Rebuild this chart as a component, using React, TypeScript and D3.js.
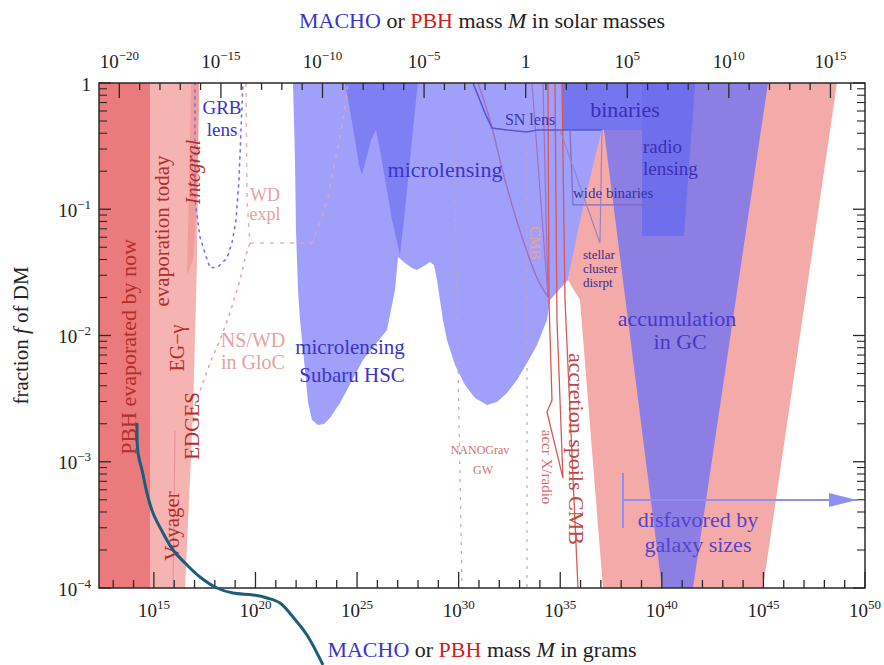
import React from 'react';
import * as d3 from 'd3';

// ---------- data (log10 mass in grams, log10 fraction f) ----------
const MSUN = 1.989e33;
const massDomainGrams = [1e-21 * MSUN, 1e50];
const fDomain = [1e-4, 1];

const bottomTickExps = d3.range(13, 51);
const bottomLabelExps = [15, 20, 25, 30, 35, 40, 45, 50];
const topTickExps = d3.range(-20, 17);
const topLabelExps = [-20, -15, -10, -5, 0, 5, 10, 15];
const yDecadeExps = [-4, -3, -2, -1, 0];

const evaporatedByNow = [[12.2986, 0], [14.809, 0], [14.809, -4], [12.2986, -4]];
const evaporationToday = [[12.2986, 0], [17.22, 0], [17.122, -1.402], [16.925, -2.614], [16.531, -4], [12.2986, -4]];
const integralSliver = [[16.83, 0], [17.22, 0], [17.122, -0.927], [16.925, -1.402], [16.63, -1.521], [16.72, -0.9]];
const voyagerEdge = [[15.941, -4], [16.039, -2.749]];

const microlensing = [
  [21.847, 0], [37.055, 0], [37.055, -0.372], [35.381, -1.56], [34.495, -1.719], [34.348, -1.877],
  [33.856, -2.075], [33.363, -2.218], [32.871, -2.352], [32.379, -2.455], [31.887, -2.527], [31.395, -2.55],
  [30.804, -2.495], [30.312, -2.392], [29.82, -2.234], [29.426, -2.036], [29.229, -1.877], [29.081, -1.719],
  [28.934, -1.56], [28.786, -1.442], [28.589, -1.418], [28.294, -1.45], [27.95, -1.481], [27.703, -1.465],
  [27.359, -1.426], [27.015, -1.378], [26.867, -1.64], [26.473, -1.956], [25.292, -2.194], [24.16, -2.535],
  [23.668, -2.653], [23.372, -2.701], [23.077, -2.709], [22.782, -2.669], [22.585, -2.527], [22.437, -2.273],
  [22.191, -1.877], [22.093, -1.64], [21.994, -1.164], [21.945, -0.61],
];
const microlensingOverlap = [
  [24.406, 0], [27.999, 0], [27.9, -0.135], [27.703, -0.451], [27.507, -0.768], [27.31, -1.085], [27.113, -1.362],
  [26.719, -1.085], [26.424, -0.808], [26.129, -0.531], [25.932, -0.372], [25.686, -0.451], [25.439, -0.61],
  [25.243, -0.729], [25.095, -0.65], [24.898, -0.451], [24.652, -0.214],
];
const dynamicalPink = [
  [37.055, -0.372], [36.562, -0.689], [35.874, -1.164], [35.381, -1.56], [35.972, -1.719], [37.104, -4],
  [44.978, -4], [48.621, 0], [38.925, 0],
];
const accumulationGC = [[36.858, 0], [45.225, 0], [41.533, -4], [40.008, -4]];
const binaries = [[35.086, 0], [41.632, 0], [41.484, -0.372], [35.086, -0.372]];
const radioLensing = [[39.023, 0], [41.632, 0], [41.09, -1.212], [39.023, -1.212]];

const grbLens = [[17.024, 0], [17.024, -0.927], [17.269, -1.22], [17.516, -1.347], [17.762, -1.465], [18.156, -1.457],
  [18.598, -1.386], [18.845, -1.267], [19.042, -1.085], [19.189, -0.768], [19.287, -0.372], [19.386, 0]];
const wdExpl = [[19.534, 0], [19.583, -0.927], [19.73, -1.267], [22.782, -1.267], [23.274, -1.061], [23.57, -0.903],
  [23.815, -0.689], [24.062, -0.507], [24.308, -0.293], [24.455, -0.135], [24.554, 0]];
const nsWdGloC = [[17.024, -2.55], [17.762, -2.218], [18.254, -2.036], [18.746, -1.822], [19.238, -1.56],
  [19.534, -1.362], [19.73, -1.267]];
const snLens = [[30.706, 0], [31.297, -0.238], [31.641, -0.356], [32.379, -0.372], [33.363, -0.388],
  [33.856, -0.372], [34.988, -0.372], [37.055, -0.372]];
const cmbCurve = [[30.952, 0], [31.542, -0.293], [32.28, -0.768], [33.167, -1.244], [33.905, -1.56], [34.397, -1.695]];
const cmbLineA = [[33.61, 0], [34.397, -1.695]];
const cmbLineB = [[34.151, 0], [34.397, -1.695]];
const accrXRadio = [[34.397, 0], [34.446, -1.719], [34.594, -2.511], [34.348, -2.606], [35.135, -3.129],
  [34.84, -1.877], [34.742, 0]];
const accrCmb = [[35.086, 0], [35.234, -1.719], [35.874, -4]];
const nanoGravA = [[29.721, 0], [30.164, -4]];
const nanoGravB = [[33.363, -0.475], [33.363, -4]];
const wideBinaries = [[35.48, -0.372], [35.627, -0.966], [41.139, -0.966]];
const stellarCluster = [[34.988, -0.372], [36.956, -1.267], [37.055, -0.372]];
const galaxyArrow = [[38.088, -3.303], [49.605, -3.303]];
const galaxyBar = [[38.088, -3.089], [38.088, -3.525]];
const tealCurve = [
  [14.169, -2.693], [14.218, -2.931], [14.415, -3.065], [14.661, -3.248], [14.956, -3.406], [15.448, -3.564],
  [15.941, -3.699], [16.531, -3.802], [17.269, -3.913], [18.106, -4.0], [18.894, -4.04], [19.878, -4.055],
  [20.567, -4.079], [21.207, -4.119], [21.847, -4.23], [22.536, -4.372], [23.323, -4.61],
];

// ---------- styling ----------
const W = 884, H = 665;
const PL = 99, PR = 865, PT = 83, PB = 588;
const FONT = '"Liberation Serif", "Times New Roman", serif';
const BLUE_T = '#3b34c8';
const RED_T = '#b32d2d';
const PINK_T = '#e9a0a0';

type Lab = { t: string; lm: number; lf: number; size: number; color: string; rot?: number; anchor?: string; italic?: boolean };
const labels: Lab[] = [
  { t: 'PBH evaporated by now', lm: 13.726, lf: -2.091, size: 22, color: RED_T, rot: -90 },
  { t: 'evaporation today', lm: 15.399, lf: -1.172, size: 21, color: RED_T, rot: -90 },
  { t: 'Integral', lm: 16.925, lf: -0.705, size: 20, color: RED_T, rot: -90, italic: true },
  { t: 'EG\u2212\u03b3', lm: 16.138, lf: -2.099, size: 20, color: RED_T, rot: -90 },
  { t: 'EDGES', lm: 16.876, lf: -2.717, size: 21, color: RED_T, rot: -90 },
  { t: 'Voyager', lm: 15.891, lf: -3.509, size: 21, color: RED_T, rot: -90 },
  { t: 'GRB', lm: 18.352, lf: -0.198, size: 19, color: BLUE_T },
  { t: 'lens', lm: 18.352, lf: -0.372, size: 19, color: BLUE_T },
  { t: 'WD', lm: 20.469, lf: -0.888, size: 18, color: PINK_T },
  { t: 'expl', lm: 20.469, lf: -1.04, size: 18, color: PINK_T },
  { t: 'NS/WD', lm: 19.878, lf: -2.036, size: 20, color: PINK_T },
  { t: 'in GloC', lm: 19.878, lf: -2.21, size: 20, color: PINK_T },
  { t: 'microlensing', lm: 24.652, lf: -2.091, size: 21, color: BLUE_T },
  { t: 'Subaru HSC', lm: 24.752, lf: -2.313, size: 21, color: BLUE_T },
  { t: 'microlensing', lm: 29.328, lf: -0.689, size: 22, color: BLUE_T },
  { t: 'SN lens', lm: 33.512, lf: -0.293, size: 16, color: '#3b34b8' },
  { t: 'binaries', lm: 38.187, lf: -0.206, size: 22, color: '#3a2fb5' },
  { t: 'radio', lm: 39.073, lf: -0.5, size: 19, color: '#3a2fb5', anchor: 'start' },
  { t: 'lensing', lm: 39.073, lf: -0.68, size: 19, color: '#3a2fb5', anchor: 'start' },
  { t: 'wide binaries', lm: 35.627, lf: -0.871, size: 15, color: '#3a2fa0', anchor: 'start' },
  { t: 'stellar', lm: 36.12, lf: -1.362, size: 13, color: '#3d2a88', anchor: 'start' },
  { t: 'cluster', lm: 36.12, lf: -1.473, size: 13, color: '#3d2a88', anchor: 'start' },
  { t: 'disrpt', lm: 36.12, lf: -1.584, size: 13, color: '#3d2a88', anchor: 'start' },
  { t: 'accumulation', lm: 40.746, lf: -1.869, size: 22, color: '#4a38c8' },
  { t: 'in GC', lm: 40.9, lf: -2.051, size: 22, color: '#4a38c8' },
  { t: 'disfavored by', lm: 41.78, lf: -3.461, size: 22, color: '#5544cc' },
  { t: 'galaxy sizes', lm: 41.78, lf: -3.659, size: 22, color: '#5544cc' },
  { t: 'accretion spoils CMB', lm: 35.825, lf: -2.899, size: 22, color: '#c04848', rot: 90 },
  { t: 'accr X/radio', lm: 34.348, lf: -3.042, size: 15, color: '#d86a6a', rot: 90 },
  { t: 'NANOGrav', lm: 31.05, lf: -2.907, size: 12, color: '#d07070' },
  { t: 'GW', lm: 31.2, lf: -3.065, size: 12, color: '#d07070' },
  { t: 'CMB', lm: 33.757, lf: -1.267, size: 15, color: '#f0a090', rot: 90 },
];

function sup(e: number) {
  return e < 0 ? '\u2212' + Math.abs(e) : String(e);
}

export default function App() {
  const x = d3.scaleLog().domain(massDomainGrams).range([PL, PR]);
  const xTop = d3.scaleLog().domain([massDomainGrams[0] / MSUN, massDomainGrams[1] / MSUN]).range([PL, PR]);
  const y = d3.scaleLog().domain(fDomain).range([PB, PT]);
  const px = (lm: number) => x(Math.pow(10, lm));
  const py = (lf: number) => y(Math.pow(10, lf));
  const mk = (pts: number[][], closed = true, curve: any = d3.curveLinear) =>
    (d3.line<number[]>().x(d => px(d[0])).y(d => py(d[1])).curve(curve)(pts) || '') + (closed ? 'Z' : '');

  const yMinor: number[] = [];
  for (let k = -4; k < 0; k++) for (let m = 2; m <= 9; m++) yMinor.push(m * Math.pow(10, k));

  const ax = px(galaxyArrow[1][0]);
  const ay = py(galaxyArrow[1][1]);

  const axisColor = '#2a2a2a';

  return (
    <svg width={W} height={H} style={{ position: 'absolute', left: 0, top: 0, background: '#fff', fontFamily: FONT }}>
      <defs>
        <clipPath id="plot">
          <rect x={PL} y={PT} width={PR - PL} height={PB - PT} />
        </clipPath>
      </defs>
      <rect x={0} y={0} width={W} height={H} fill="#fff" />
      <g clipPath="url(#plot)">
        <path d={mk(evaporationToday)} fill="#f5b3b2" />
        <path d={mk(evaporatedByNow)} fill="#ea7a7b" />
        <path d={mk(integralSliver)} fill="#f09d9c" />
        <path d={mk(voyagerEdge, false)} fill="none" stroke="#e08484" strokeWidth={0.8} />
        <path d={mk(microlensing)} fill="#a0a0fa" />
        <path d={mk(microlensingOverlap)} fill="#7f7ff4" />
        <path d={mk(dynamicalPink)} fill="#f3aaa8" />
        <path d={mk(accumulationGC)} fill="#8c7ee3" />
        <path d={mk(binaries)} fill="#7575ef" />
        <path d={mk(radioLensing)} fill="#6f6fee" />

        <path d={mk(grbLens, false)} fill="none" stroke="#7a74e0" strokeWidth={1.6} strokeDasharray="2,5" strokeLinecap="round" />
        <path d={mk(wdExpl, false)} fill="none" stroke="#e8a4a4" strokeWidth={1.5} strokeDasharray="4,6" opacity={0.85} />
        <path d={mk(nsWdGloC, false)} fill="none" stroke="#e0a4b0" strokeWidth={1.5} strokeDasharray="2,6" strokeLinecap="round" />
        <path d={mk(nanoGravA, false)} fill="none" stroke="#c4a4b4" strokeWidth={1.2} strokeDasharray="3,6" />
        <path d={mk(nanoGravB, false)} fill="none" stroke="#c4a4b4" strokeWidth={1.2} strokeDasharray="3,6" />

        <path d={mk(cmbCurve, false, d3.curveCatmullRom)} fill="none" stroke="#a070c0" strokeWidth={1.4} />
        <path d={mk(cmbLineA, false)} fill="none" stroke="#a070c0" strokeWidth={1.2} />
        <path d={mk(cmbLineB, false)} fill="none" stroke="#a070c0" strokeWidth={1.2} />
        <path d={mk(accrXRadio, false)} fill="none" stroke="#d45a5a" strokeWidth={1.3} />
        <path d={mk(accrCmb, false)} fill="none" stroke="#d45a5a" strokeWidth={1.3} />
        <path d={mk(snLens, false)} fill="none" stroke="#5a55d0" strokeWidth={1.6} />
        <path d={mk(wideBinaries, false)} fill="none" stroke="#7b6cc8" strokeWidth={1.2} />
        <path d={mk(stellarCluster, false)} fill="none" stroke="#9a84c8" strokeWidth={1.2} />

        <path d={mk(galaxyArrow, false)} fill="none" stroke="#8f8ff2" strokeWidth={2} />
        <path d={mk(galaxyBar, false)} fill="none" stroke="#8f8ff2" strokeWidth={2} />
        <path d={`M${ax},${ay}L${ax - 28},${ay - 7}L${ax - 28},${ay + 7}Z`} fill="#8f8ff2" />
      </g>

      {/* labels */}
      {labels.map((l, i) => {
        const lx = px(l.lm), ly = py(l.lf);
        return (
          <text key={i} transform={`translate(${lx},${ly})${l.rot ? ` rotate(${l.rot})` : ''}`}
            textAnchor={(l.anchor as any) || 'middle'} dominantBaseline="central"
            fontSize={l.size} fill={l.color} fontStyle={l.italic ? 'italic' : 'normal'}>{l.t}</text>
        );
      })}

      {/* frame */}
      <rect x={PL} y={PT} width={PR - PL} height={PB - PT} fill="none" stroke={axisColor} strokeWidth={1.5} />

      {/* bottom ticks */}
      {bottomTickExps.map(e => {
        const xx = x(Math.pow(10, e));
        const len = e % 5 === 0 ? 16 : 8;
        return <line key={'b' + e} x1={xx} x2={xx} y1={PB} y2={PB - len} stroke={axisColor} strokeWidth={1.3} />;
      })}
      {bottomLabelExps.map(e => (
        <text key={'bl' + e} x={x(Math.pow(10, e))} y={617} textAnchor="middle" fontSize={19} fill="#222">
          10<tspan dy={-8} fontSize={13}>{sup(e)}</tspan>
        </text>
      ))}
      {/* top ticks */}
      {topTickExps.map(e => {
        const xx = xTop(Math.pow(10, e));
        const len = e % 5 === 0 ? 15 : 7;
        return <line key={'t' + e} x1={xx} x2={xx} y1={PT} y2={PT + len} stroke={axisColor} strokeWidth={1.3} />;
      })}
      {topLabelExps.map(e => (
        <text key={'tl' + e} x={xTop(Math.pow(10, e))} y={68} textAnchor="middle" fontSize={19} fill="#222">
          {e === 0 ? '1' : <>10<tspan dy={-8} fontSize={13}>{sup(e)}</tspan></>}
        </text>
      ))}
      {/* y ticks */}
      {yDecadeExps.map(e => {
        const yy = y(Math.pow(10, e));
        return (
          <g key={'y' + e}>
            <line x1={PL} x2={PL + 12} y1={yy} y2={yy} stroke={axisColor} strokeWidth={1.3} />
            <line x1={PR} x2={PR - 12} y1={yy} y2={yy} stroke={axisColor} strokeWidth={1.3} />
            <text x={91} y={yy + 7.5} textAnchor="end" fontSize={19} fill="#222">
              {e === 0 ? '1' : <>10<tspan dy={-8} fontSize={13}>{sup(e)}</tspan></>}
            </text>
          </g>
        );
      })}
      {yMinor.map((v, i) => {
        const yy = y(v);
        return (
          <g key={'ym' + i}>
            <line x1={PL} x2={PL + 8} y1={yy} y2={yy} stroke={axisColor} strokeWidth={1.1} />
            <line x1={PR} x2={PR - 8} y1={yy} y2={yy} stroke={axisColor} strokeWidth={1.1} />
          </g>
        );
      })}

      {/* titles */}
      <text x={(PL + PR) / 2} y={28} textAnchor="middle" fontSize={22} fill="#222">
        <tspan fill={BLUE_T}>MACHO</tspan>{' or '}<tspan fill="#cc2222">PBH</tspan>{' mass '}
        <tspan fontStyle="italic">M</tspan>{' in solar masses'}
      </text>
      <text x={(PL + PR) / 2} y={657} textAnchor="middle" fontSize={22} fill="#222">
        <tspan fill={BLUE_T}>MACHO</tspan>{' or '}<tspan fill="#cc2222">PBH</tspan>{' mass '}
        <tspan fontStyle="italic">M</tspan>{' in grams'}
      </text>
      <text transform={`translate(28,${(PT + PB) / 2}) rotate(-90)`} textAnchor="middle" fontSize={21} fill="#222">
        {'fraction '}<tspan fontStyle="italic">f</tspan>{' of DM'}
      </text>

      {/* overlay curve */}
      <path d={mk(tealCurve, false, d3.curveCatmullRom)} fill="none" stroke="#1c5d7c" strokeWidth={3} strokeLinecap="butt" />
    </svg>
  );
}
